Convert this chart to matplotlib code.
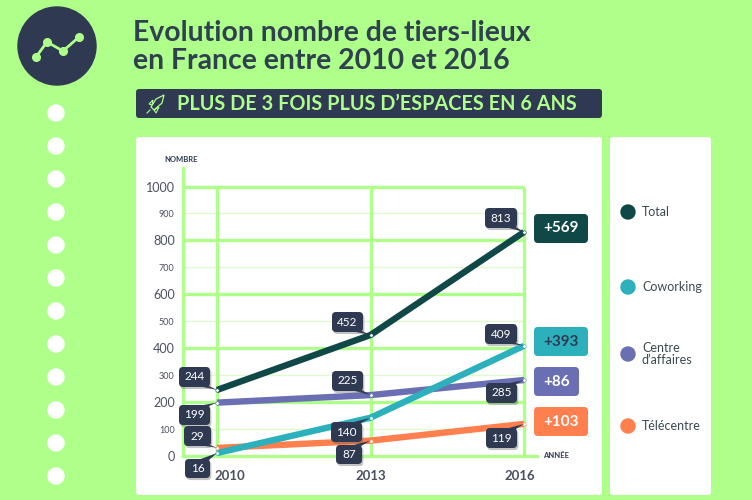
import matplotlib
matplotlib.use('Agg')
import matplotlib.pyplot as plt
import matplotlib.patheffects as pe
from matplotlib.patches import Circle, FancyBboxPatch, Polygon

plt.rcParams['font.family'] = 'Lato'

GREEN = '#AFFF8B'
NAVY = '#2F3A52'
GREY = '#4A5060'

years = [2010, 2013, 2016]
# values as the lines are drawn in the picture (they do not always agree with the printed labels)
total = [245, 449, 831]
coworking = [11, 142, 409]
centre = [198, 226, 282]
telecentre = [30, 57, 119]

total_labels = ['244', '452', '813']
coworking_labels = ['16', '140', '409']
centre_labels = ['199', '225', '285']
telecentre_labels = ['29', '87', '119']

series_names = ['Total', 'Coworking', 'Centre\nd\u2019affaires', 'T\u00e9l\u00e9centre']
series_colors = ['#0F4846', '#2BB0BC', '#6A6FB4', '#FF7F4F']
gains = ['+569', '+393', '+86', '+103']

major_ticks = [0, 200, 400, 600, 800, 1000]
minor_ticks = [100, 300, 500, 700, 900]

fig = plt.figure(figsize=(7.52, 5), dpi=100, facecolor=GREEN)

# pixel space background and foreground
bg = fig.add_axes([0, 0, 1, 1], zorder=0)
fg = fig.add_axes([0, 0, 1, 1], zorder=3)
for a in (bg, fg):
    a.set_xlim(0, 752)
    a.set_ylim(500, 0)
    a.axis('off')
    a.patch.set_alpha(0)


def rbox(a, x0, y0, x1, y1, color, r=3, **kw):
    return a.add_patch(FancyBboxPatch((x0 + r, y0 + r), x1 - x0 - 2 * r, y1 - y0 - 2 * r,
                                      boxstyle='round,pad=%d,rounding_size=%d' % (r, r),
                                      fc=color, ec='none', **kw))


# icon and side dots
bg.add_patch(Circle((57, 46), 39, color=NAVY))
bg.plot([36, 47, 63, 79], [57, 42, 51, 37], color=GREEN, lw=2, marker='o', ms=5.5)
for y in range(113, 510, 33):
    bg.add_patch(Circle((56, y), 8, color='white'))

# title
bg.text(133, 33, 'Evolution nombre de tiers-lieux', fontsize=20.4, fontweight='bold',
        color='#2F4050', va='center', ha='left')
bg.text(133, 61, 'en France entre 2010 et 2016', fontsize=20.4, fontweight='bold',
        color='#2F4050', va='center', ha='left')

# banner
rbox(bg, 136, 89, 602, 118, NAVY)
bg.text(177, 104, 'PLUS DE 3 FOIS PLUS D\u2019ESPACES EN 6 ANS', fontsize=14.3, fontweight='bold',
        color=GREEN, va='center', ha='left')
# small rocket
bg.add_patch(Polygon([[164, 95], [162, 103], [154, 110], [151, 107], [156, 99]],
                     fc='none', ec=GREEN, lw=0.9))
bg.add_patch(Polygon([[153, 100], [149, 104], [152, 105]], fc='none', ec=GREEN, lw=0.8))
bg.add_patch(Polygon([[159, 107], [156, 113], [154, 110]], fc='none', ec=GREEN, lw=0.8))
bg.plot([147, 150], [113, 110], color=GREEN, lw=0.8)

# panels
rbox(bg, 136, 137, 602, 495, 'white')
rbox(bg, 610, 137, 711, 495, 'white')

# chart
ax = fig.add_axes([183 / 752, 1 - 456 / 500, (537 - 183) / 752, (456 - 168) / 500], zorder=1)
ax.patch.set_alpha(0)
px_per_year = (524 - 217) / 6
ax.set_xlim(2010 - 34 / px_per_year, 2016 + 13 / px_per_year)
ax.set_ylim(0, 288 / 0.2695)

for s in ('top', 'right'):
    ax.spines[s].set_visible(False)
for s in ('left', 'bottom'):
    ax.spines[s].set_color(GREEN)
    ax.spines[s].set_linewidth(2.4)

ax.set_yticks(major_ticks)
ax.set_yticks(minor_ticks, minor=True)
ax.set_xticks([])
ax.tick_params(axis='y', which='major', length=0, pad=6, labelsize=9, labelcolor=GREY)
ax.tick_params(axis='y', which='minor', length=0, pad=6, labelsize=6.5, labelcolor=GREY)
ax.set_yticklabels([str(v) for v in minor_ticks], minor=True)

ax.hlines(major_ticks[1:], ax.get_xlim()[0], 2016, color=GREEN, lw=2.4, zorder=1)
ax.hlines(minor_ticks, ax.get_xlim()[0], 2016, color='#DDFBCF', lw=1, zorder=1)
ax.vlines(years, 0, 1000, color=GREEN, lw=2.4, zorder=1)

for vals, color in zip([telecentre, centre, coworking, total],
                       [series_colors[3], series_colors[2], series_colors[1], series_colors[0]]):
    ax.plot(years, vals, color=color, lw=4.6, solid_capstyle='butt', zorder=3)
    ax.plot(years, vals, ls='none', marker='o', ms=2.5, mfc='white', mec=color, mew=0.4, zorder=4)

# x labels, shifted from the gridlines as in the picture
for yr, dx in zip(years, [13, 0, -4]):
    ax.annotate(str(yr), (yr, 0), xytext=(dx, -20), textcoords='offset pixels', ha='center',
                va='center', fontsize=9.5, fontweight='bold', color=GREY, annotation_clip=False)

bg.text(181, 159, 'NOMBRE', fontsize=5.5, fontweight='bold', color=NAVY, ha='center', va='center')
bg.text(556, 456, 'ANN\u00c9E', fontsize=5.5, fontweight='bold', color=NAVY, ha='center', va='center')

shadow = [pe.SimplePatchShadow(offset=(1, -1.5), shadow_rgbFace='#555555', alpha=0.35), pe.Normal()]


def callout(year, value, label, x0, y0, x1, y1):
    px, py = fg.transData.inverted().transform(ax.transData.transform((year, value)))
    # tail goes from the box side that faces the point
    if py > y1:
        tail = [[x1 - 12, y1 - 1], [x1 - 1, y1 - 1], [px, py]]
    elif py < y0:
        tail = [[x1 - 12, y0 + 1], [x1 - 1, y0 + 1], [px, py]]
    else:
        tail = [[x1 - 1, y0 + 6], [x1 - 1, y1 - 6], [px, py]]
    fg.add_patch(Polygon(tail, fc=NAVY, ec='none'))
    box = rbox(fg, x0, y0, x1, y1, NAVY, r=4)
    box.set_path_effects(shadow)
    fg.text((x0 + x1) / 2, (y0 + y1) / 2, label, color='white', fontsize=8.5,
            ha='center', va='center')


callout(2010, total[0], total_labels[0], 179, 367, 210, 387)
callout(2010, centre[0], centre_labels[0], 179, 405, 210, 425)
callout(2010, telecentre[0], telecentre_labels[0], 184, 426, 211, 446)
callout(2010, coworking[0], coworking_labels[0], 185, 459, 210, 478)
callout(2013, total[1], total_labels[1], 332, 312, 363, 332)
callout(2013, centre[1], centre_labels[1], 332, 371, 363, 391)
callout(2013, coworking[1], coworking_labels[1], 331, 422, 362, 442)
callout(2013, telecentre[1], telecentre_labels[1], 336, 445, 362, 464)
callout(2016, total[2], total_labels[2], 485, 208, 517, 228)
callout(2016, coworking[2], coworking_labels[2], 485, 324, 517, 344)
callout(2016, centre[2], centre_labels[2], 486, 383, 517, 403)
callout(2016, telecentre[2], telecentre_labels[2], 486, 428, 517, 448)

# gain badges
badge_boxes = [(534, 214, 588, 243), (534, 327, 588, 356), (534, 367, 579, 396), (534, 407, 588, 436)]
badge_text = ['white', NAVY, 'white', 'white']
for gain, color, tc, (x0, y0, x1, y1) in zip(gains, series_colors, badge_text, badge_boxes):
    rbox(fg, x0, y0, x1, y1, color, r=4)
    fg.text((x0 + x1) / 2, (y0 + y1) / 2, gain, color=tc, fontsize=11, fontweight='bold',
            ha='center', va='center')

# legend panel
for name, color, y in zip(series_names, series_colors, [212, 287, 354, 426]):
    bg.add_patch(Circle((628, y), 7, color=color))
    bg.text(642, y, name, fontsize=9, color='#3A4A50', ha='left', va='center', linespacing=0.95)

fig.savefig('out.png', dpi=100)
